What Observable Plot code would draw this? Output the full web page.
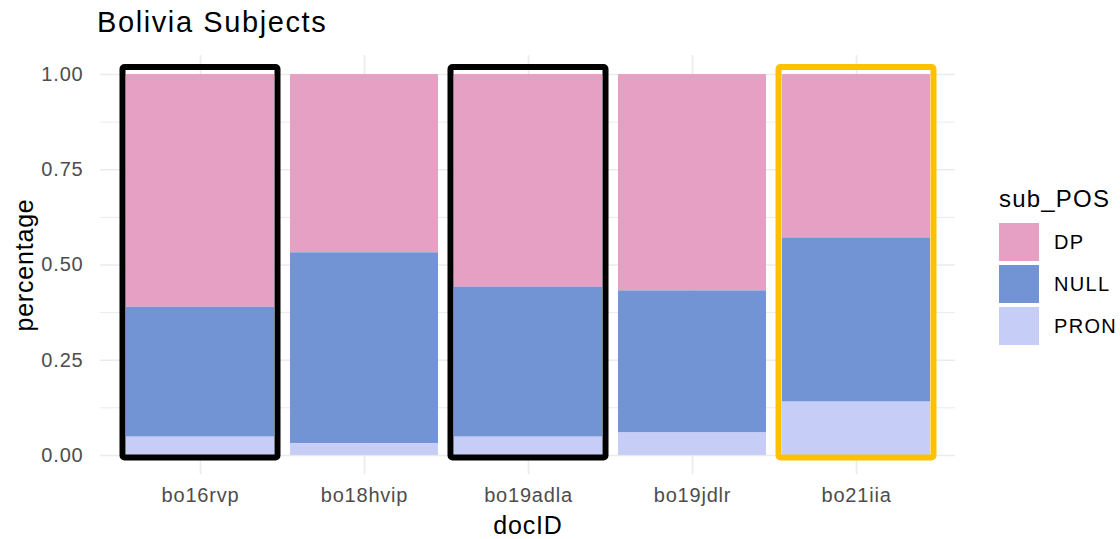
<!DOCTYPE html>
<html>
<head>
<meta charset="utf-8">
<script src="https://cdn.jsdelivr.net/npm/d3@7"></script>
<script src="https://cdn.jsdelivr.net/npm/@observablehq/plot@0.6"></script>
<style>
  html, body { margin: 0; padding: 0; background: #fff; }
  #wrap { position: relative; width: 1120px; height: 539px; font-family: "Liberation Sans", Arial, sans-serif; overflow: hidden; }
  #title { position: absolute; left: 97px; top: 8px; font-size: 29px; line-height: 29px; letter-spacing: 1.6px; color: #000; white-space: nowrap; }
  #plot { position: absolute; left: 0; top: 0; }
  #legend { position: absolute; left: 999px; top: 187px; }
  #legend .ltitle { font-size: 24px; line-height: 23px; letter-spacing: 1.2px; color: #000; height: 36px; white-space: nowrap; }
  #legend .row { display: flex; align-items: center; height: 38px; margin-bottom: 4px; }
  #legend .sw { width: 40px; height: 38px; }
  #legend .lab { margin-left: 15px; font-size: 20px; letter-spacing: 1.3px; color: #000; white-space: nowrap; }
</style>
</head>
<body>
<div id="wrap">
  <div id="plot"></div>
  <div id="title">Bolivia Subjects</div>
  <div id="legend"></div>
</div>
<script>
// ---- data ----
const docIDs = ["bo16rvp", "bo18hvip", "bo19adla", "bo19jdlr", "bo21iia"];
const subPOS = ["DP", "NULL", "PRON"];
const subColors = ["#E6A0C4", "#7294D4", "#C6CDF7"];
const dpShare   = [0.611, 0.468, 0.558, 0.568, 0.429];
const nullShare = [0.341, 0.501, 0.394, 0.373, 0.431];
const pronShare = [0.048, 0.031, 0.048, 0.059, 0.140];
const yTicks = [0, 0.25, 0.5, 0.75, 1];
const yMinorTicks = [0.125, 0.375, 0.625, 0.875];
const highlightDocs = ["bo16rvp", "bo19adla", "bo21iia"];
const highlightColors = ["#000000", "#000000", "#FFC000"];

const shares = {DP: dpShare, NULL: nullShare, PRON: pronShare};
const data = [];
docIDs.forEach((d, i) => subPOS.forEach(s => data.push({docID: d, sub_POS: s, value: shares[s][i]})));
const highlights = highlightDocs.map((d, i) => ({docID: d, color: highlightColors[i]}));

const chart = Plot.plot({
  width: 1120,
  height: 539,
  marginTop: 55,
  marginBottom: 65,
  marginLeft: 100,
  marginRight: 165,
  style: {fontFamily: "Liberation Sans, Arial, sans-serif", fontSize: "20px", color: "#4D4D4D", background: "transparent", letterSpacing: "0.8px"},
  x: {domain: docIDs, paddingInner: 0.1, paddingOuter: 0.15},
  y: {domain: [-0.05, 1.05]},
  color: {domain: subPOS, range: subColors},
  marks: [
    Plot.ruleY(yMinorTicks, {stroke: "#EBEBEB", strokeWidth: 1}),
    Plot.ruleY(yTicks, {stroke: "#EBEBEB", strokeWidth: 1.6}),
    Plot.gridX({stroke: "#EBEBEB", strokeOpacity: 1, strokeWidth: 1.6}),
    Plot.barY(data, {x: "docID", y: "value", fill: "sub_POS", order: ["PRON", "NULL", "DP"]}),
    Plot.barY(highlights, {x: "docID", y1: 0, y2: 1, fill: "none", stroke: d => d.color, strokeWidth: 6,
      insetTop: -7, insetBottom: -2.5, insetLeft: -3.5, insetRight: -3.5, rx: 2}),
    Plot.axisX({tickSize: 0, tickPadding: 13, fontSize: 20, label: null, fill: "#4D4D4D"}),
    Plot.axisY({ticks: yTicks, tickFormat: d3.format(".2f"), tickSize: 0, tickPadding: 17, fontSize: 20, label: null, fill: "#4D4D4D"}),
    Plot.text(["docID"], {frameAnchor: "bottom", dy: 59, lineAnchor: "bottom", textAnchor: "middle", fontSize: 25, fill: "#000"}),
    Plot.text(["percentage"], {frameAnchor: "left", dx: -68, rotate: -90, lineAnchor: "bottom", textAnchor: "middle", fontSize: 25, fill: "#000"})
  ]
});
document.getElementById("plot").appendChild(chart);

// legend
const lg = document.getElementById("legend");
const t = document.createElement("div");
t.className = "ltitle"; t.textContent = "sub_POS";
lg.appendChild(t);
subPOS.forEach((s, i) => {
  const row = document.createElement("div"); row.className = "row";
  const sw = document.createElement("div"); sw.className = "sw"; sw.style.background = subColors[i];
  const lab = document.createElement("div"); lab.className = "lab"; lab.textContent = s;
  row.appendChild(sw); row.appendChild(lab); lg.appendChild(row);
});
</script>
</body>
</html>
